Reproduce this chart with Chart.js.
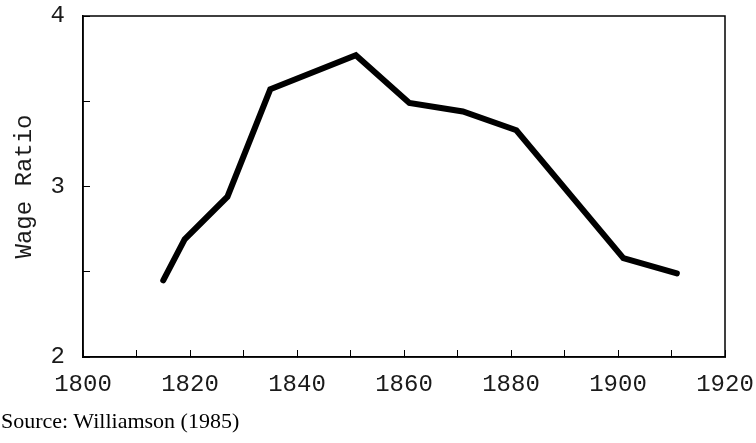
<!DOCTYPE html>
<html>
<head>
<meta charset="utf-8">
<script src="https://cdn.jsdelivr.net/npm/chart.js@4"></script>
<style>
  html, body { margin: 0; padding: 0; background: #fff; }
  #wrap { position: relative; width: 756px; height: 443px; overflow: hidden; }
  #source {
    position: absolute; left: 1px; top: 408px;
    font-family: "Liberation Serif", serif; font-size: 22px; color: #000;
  }
</style>
</head>
<body>
<div id="wrap">
  <canvas id="wage-chart" width="756" height="443"></canvas>
  <div id="source">Source: Williamson (1985)</div>
</div>
<script>
const years = [1815, 1819, 1827, 1835, 1851, 1861, 1871, 1881, 1901, 1911];
const wageRatio = [2.45, 2.69, 2.94, 3.57, 3.77, 3.49, 3.44, 3.33, 2.58, 2.49];
const xLabelYears = [1800, 1820, 1840, 1860, 1880, 1900, 1920];
const yLabelValues = [2, 3, 4];

const monoFont = { family: '"Liberation Mono", monospace', size: 24 };
const textColor = '#1a1a1a';

// draws the frame around the plot area
const frameBox = {
    id: 'frameBox',
    afterDraw(chart) {
        const { ctx, chartArea } = chart;
        ctx.save();
        ctx.strokeStyle = '#000';
        ctx.lineWidth = 1.5;
        ctx.strokeRect(chartArea.left, chartArea.top,
            chartArea.right - chartArea.left, chartArea.bottom - chartArea.top);
        ctx.restore();
    }
};

// keep the label overflow from pushing the plot area around
function fixSize(scale, w, h) {
    if (w) scale.width = w;
    if (h) scale.height = h;
    scale.paddingTop = 0;
    scale.paddingBottom = 0;
    scale.paddingLeft = 0;
    scale.paddingRight = 0;
}

new Chart(document.getElementById('wage-chart'), {
    type: 'line',
    data: {
        datasets: [{
            data: years.map((yr, i) => ({ x: yr, y: wageRatio[i] })),
            borderColor: '#000',
            borderWidth: 6,
            borderCapStyle: 'round',
            borderJoinStyle: 'miter',
            pointRadius: 0,
            tension: 0,
            fill: false
        }]
    },
    options: {
        responsive: false,
        animation: false,
        layout: { padding: { top: 16, right: 31, left: 0, bottom: 0 } },
        plugins: {
            legend: { display: false },
            tooltip: { enabled: false }
        },
        scales: {
            x: {
                type: 'linear',
                min: 1800,
                max: 1920,
                afterFit: (scale) => fixSize(scale, 0, 86),
                ticks: {
                    stepSize: 10,
                    autoSkip: false,
                    maxRotation: 0,
                    color: textColor,
                    font: monoFont,
                    padding: 20,
                    callback: (v) => xLabelYears.includes(v) ? String(v) : ''
                },
                grid: {
                    drawOnChartArea: false,
                    tickLength: -7,
                    tickColor: '#000',
                    tickWidth: 1
                },
                border: { color: '#000', width: 1.5 }
            },
            y: {
                min: 2,
                max: 4,
                afterFit: (scale) => fixSize(scale, 83, 0),
                ticks: {
                    stepSize: 0.5,
                    color: textColor,
                    font: monoFont,
                    padding: 25,
                    callback: (v) => yLabelValues.includes(v) ? String(v) : ''
                },
                grid: {
                    drawOnChartArea: false,
                    tickLength: -7,
                    tickColor: '#000',
                    tickWidth: 1
                },
                border: { color: '#000', width: 1.5 },
                title: {
                    display: true,
                    text: 'Wage Ratio',
                    color: textColor,
                    font: monoFont,
                    padding: { top: 10, bottom: 0 }
                }
            }
        }
    },
    plugins: [frameBox]
});
</script>
</body>
</html>
